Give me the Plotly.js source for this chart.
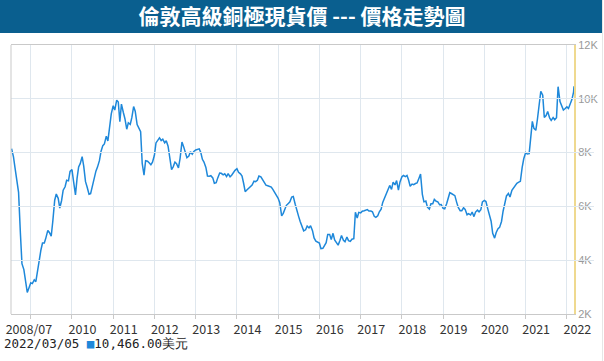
<!DOCTYPE html>
<html>
<head>
<meta charset="utf-8">
<script src="https://cdn.plot.ly/plotly-3.0.1.min.js"></script>
<style>
html,body{margin:0;padding:0;background:#ffffff;}
#chart{width:604px;height:361px;}
</style>
</head>
<body>
<div id="chart"></div>
<script>
// ---- data (semi-monthly) ----
const dates = [
'2008-07-15','2008-08-01','2008-08-15','2008-09-01','2008-09-15','2008-10-01','2008-10-15','2008-11-01','2008-11-15','2008-12-01','2008-12-15',
'2009-01-01','2009-01-15','2009-02-01','2009-02-15','2009-03-01','2009-03-15','2009-04-01','2009-04-15','2009-05-01','2009-05-15','2009-06-01','2009-06-15','2009-07-01','2009-07-15','2009-08-01','2009-08-15','2009-09-01','2009-09-15','2009-10-01','2009-10-15','2009-11-01','2009-11-15','2009-12-01','2009-12-15',
'2010-01-01','2010-01-15','2010-02-01','2010-02-15','2010-03-01','2010-03-15','2010-04-01','2010-04-15','2010-05-01','2010-05-15','2010-06-01','2010-06-15','2010-07-01','2010-07-15','2010-08-01','2010-08-15','2010-09-01','2010-09-15','2010-10-01','2010-10-15','2010-11-01','2010-11-15','2010-12-01','2010-12-15',
'2011-01-01','2011-01-15','2011-02-01','2011-02-15','2011-03-01','2011-03-15','2011-04-01','2011-04-15','2011-05-01','2011-05-15','2011-06-01','2011-06-15','2011-07-01','2011-07-15','2011-08-01','2011-08-15','2011-09-01','2011-09-15','2011-10-01','2011-10-15','2011-11-01','2011-11-15','2011-12-01','2011-12-15',
'2012-01-01','2012-01-15','2012-02-01','2012-02-15','2012-03-01','2012-03-15','2012-04-01','2012-04-15','2012-05-01','2012-05-15','2012-06-01','2012-06-15','2012-07-01','2012-07-15','2012-08-01','2012-08-15','2012-09-01','2012-09-15','2012-10-01','2012-10-15','2012-11-01','2012-11-15','2012-12-01','2012-12-15',
'2013-01-01','2013-01-15','2013-02-01','2013-02-15','2013-03-01','2013-03-15','2013-04-01','2013-04-15','2013-05-01','2013-05-15','2013-06-01','2013-06-15','2013-07-01','2013-07-15','2013-08-01','2013-08-15','2013-09-01','2013-09-15','2013-10-01','2013-10-15','2013-11-01','2013-11-15','2013-12-01','2013-12-15',
'2014-01-01','2014-01-15','2014-02-01','2014-02-15','2014-03-01','2014-03-15','2014-04-01','2014-04-15','2014-05-01','2014-05-15','2014-06-01','2014-06-15','2014-07-01','2014-07-15','2014-08-01','2014-08-15','2014-09-01','2014-09-15','2014-10-01','2014-10-15','2014-11-01','2014-11-15','2014-12-01','2014-12-15',
'2015-01-01','2015-01-15','2015-02-01','2015-02-15','2015-03-01','2015-03-15','2015-04-01','2015-04-15','2015-05-01','2015-05-15','2015-06-01','2015-06-15','2015-07-01','2015-07-15','2015-08-01','2015-08-15','2015-09-01','2015-09-15','2015-10-01','2015-10-15','2015-11-01','2015-11-15','2015-12-01','2015-12-15',
'2016-01-01','2016-01-15','2016-02-01','2016-02-15','2016-03-01','2016-03-15','2016-04-01','2016-04-15','2016-05-01','2016-05-15','2016-06-01','2016-06-15','2016-07-01','2016-07-15','2016-08-01','2016-08-15','2016-09-01','2016-09-15','2016-10-01','2016-10-15','2016-11-01','2016-11-15','2016-12-01','2016-12-15',
'2017-01-01','2017-01-15','2017-02-01','2017-02-15','2017-03-01','2017-03-15','2017-04-01','2017-04-15','2017-05-01','2017-05-15','2017-06-01','2017-06-15','2017-07-01','2017-07-15','2017-08-01','2017-08-15','2017-09-01','2017-09-15','2017-10-01','2017-10-15','2017-11-01','2017-11-15','2017-12-01','2017-12-15',
'2018-01-01','2018-01-15','2018-02-01','2018-02-15','2018-03-01','2018-03-15','2018-04-01','2018-04-15','2018-05-01','2018-05-15','2018-06-01','2018-06-15','2018-07-01','2018-07-15','2018-08-01','2018-08-15','2018-09-01','2018-09-15','2018-10-01','2018-10-15','2018-11-01','2018-11-15','2018-12-01','2018-12-15',
'2019-01-01','2019-01-15','2019-02-01','2019-02-15','2019-03-01','2019-03-15','2019-04-01','2019-04-15','2019-05-01','2019-05-15','2019-06-01','2019-06-15','2019-07-01','2019-07-15','2019-08-01','2019-08-15','2019-09-01','2019-09-15','2019-10-01','2019-10-15','2019-11-01','2019-11-15','2019-12-01','2019-12-15',
'2020-01-01','2020-01-15','2020-02-01','2020-02-15','2020-03-01','2020-03-15','2020-04-01','2020-04-15','2020-05-01','2020-05-15','2020-06-01','2020-06-15','2020-07-01','2020-07-15','2020-08-01','2020-08-15','2020-09-01','2020-09-15','2020-10-01','2020-10-15','2020-11-01','2020-11-15','2020-12-01','2020-12-15',
'2021-01-01','2021-01-15','2021-02-01','2021-02-15','2021-03-01','2021-03-15','2021-04-01','2021-04-15','2021-05-01','2021-05-15','2021-06-01','2021-06-15','2021-07-01','2021-07-15','2021-08-01','2021-08-15','2021-09-01','2021-09-15','2021-10-01','2021-10-15','2021-11-01','2021-11-15','2021-12-01','2021-12-15',
'2022-01-01','2022-01-15','2022-02-01','2022-02-15','2022-03-01','2022-03-05'
];

const prices = [
8150,7840,7420,6990,6520,5020,3870,3650,3300,2800,2960,
3160,3130,3270,3200,3600,4000,4380,4640,4640,4830,5110,5030,4890,5440,6230,6460,6300,5940,6220,6600,6730,6970,6950,7300,
7370,6930,6430,7040,7470,7590,7850,7500,6920,6720,6450,6470,6740,7090,7310,7460,7700,8040,8260,8320,8610,8430,8900,9440,
9740,9580,9950,9880,9150,9800,9490,9260,8870,9110,9050,9300,9710,9540,9040,8900,8780,7600,7160,7700,7680,7620,7550,7640,
7900,8360,8480,8550,8450,8500,8360,8440,8240,7750,7370,7470,7650,7590,7430,7780,8390,8230,7990,7810,7870,8030,7940,8040,
8100,8120,8140,8000,7750,7650,7450,7130,7120,7140,7060,6860,6880,7060,7240,7230,7170,7210,7110,7220,7100,7160,7280,7340,
7400,7270,7210,7130,6860,6550,6620,6680,6720,6790,6940,6920,6970,7130,7100,7000,6930,6790,6770,6740,6720,6630,6510,6430,
6300,6140,5650,5740,5900,6040,6110,6170,6350,6370,6080,5830,5630,5440,5250,5090,5130,5270,5200,5280,5100,4830,4710,4680,
4640,4430,4440,4540,4650,4960,4960,4770,5000,4750,4640,4560,4730,4920,4740,4690,4860,4730,4700,4780,4800,5780,5570,5780,
5760,5820,5840,5850,5880,5830,5830,5800,5630,5590,5650,5800,5900,6150,6320,6500,6690,6780,6630,6900,6800,6960,6610,6910,
7100,7150,7110,7150,6980,6750,6830,6810,6850,6870,7050,7200,6450,6170,6200,5970,5900,6100,6100,6260,6190,6170,6060,6070,
5930,5910,6100,6350,6510,6480,6450,6400,6150,5960,5840,5840,5950,5890,5690,5730,5680,5790,5620,5790,5860,5800,5880,6170,
6220,6180,5900,5640,5450,5000,4820,5030,5170,5220,5440,5820,6090,6390,6480,6350,6600,6670,6790,6860,6900,6930,7450,7770,
8000,7950,7960,8450,9160,8900,8830,9240,9720,10280,10130,9310,9380,9530,9290,9200,9300,9220,9300,10450,9900,9720,9580,9630,
9700,9640,9820,9980,10250,10466
];

const gridYears = ['2009-01-01','2010-01-01','2011-01-01','2012-01-01','2013-01-01','2014-01-01','2015-01-01','2016-01-01','2017-01-01','2018-01-01','2019-01-01','2020-01-01','2021-01-01','2022-01-01'];
const labelDates = ['2008-09-14','2010-01-01','2011-01-01','2012-01-01','2013-01-01','2014-01-01','2015-01-01','2016-01-01','2017-01-01','2018-01-01','2019-01-01','2020-01-01','2021-01-01','2022-01-01'];
const labelText = ['2008/07','2010','2011','2012','2013','2014','2015','2016','2017','2018','2019','2020','2021','2022'];
const yTicks = [2000,4000,6000,8000,10000,12000];
const yTickText = ['2K','4K','6K','8K','10K','12K'];
const xRange = ['2008-07-10','2022-03-05'];
const yRange = [2000,12000];
const titleText = '倫敦高級銅極現貨價 --- 價格走勢圖';
const lastDateLabel = '2022/03/05';
const unitText = '美元';

// ---- layout geometry & styles ----
const W = 604, H = 361;
const M = {l:11, r:10, t:45, b:47};
const plotRight = 574;                       // right edge of the chart area (px)
const pw = W - M.l - M.r, ph = H - M.t - M.b;
const mainW = plotRight - M.l;
const px2x = p => (p - M.l) / pw;            // pixel -> paper x
const px2y = p => (H - M.b - p) / ph;        // pixel -> paper y

// label axis: same scale as main axis, labels drawn 10.5px right of their gridline
const labelShiftPx = 10.5;
const t0 = Date.parse(xRange[0] + 'T00:00:00Z');
const t1 = Date.parse(xRange[1] + 'T00:00:00Z');
const msPerPx = (t1 - t0) / mainW;
const toStr = ms => new Date(ms).toISOString().replace('T', ' ').replace('Z', '');
const x2Range = [toStr(t0 - labelShiftPx * msPerPx), toStr(t0 - labelShiftPx * msPerPx + pw * msPerPx)];

const lineColor = '#1e88da';
const gridColor = '#dfe7ee';
const borderColor = '#c9c9c9';

const lastPrice = prices[prices.length - 1].toLocaleString('en-US', {minimumFractionDigits:2, maximumFractionDigits:2});

const traces = [
  {
    type:'scatter', mode:'lines', x:dates, y:prices,
    line:{color:lineColor, width:1.5}, hoverinfo:'skip', showlegend:false
  },
  {
    type:'scatter', mode:'lines', x:dates, y:prices, xaxis:'x2',
    line:{color:'rgba(0,0,0,0)', width:0}, hoverinfo:'skip', showlegend:false
  }
];

const layout = {
  width:W, height:H, margin:M,
  paper_bgcolor:'#ffffff', plot_bgcolor:'rgba(0,0,0,0)',
  showlegend:false,
  title:{
    text:titleText, xref:'container', x:0.5, xanchor:'center',
    yref:'container', y:1 - 17/H, yanchor:'middle',
    font:{family:'"Noto Sans CJK TC", sans-serif', size:21, color:'#ffffff', weight:'bold'}
  },
  xaxis:{
    type:'date', range:xRange, domain:[0, mainW / pw],
    tickmode:'array', tickvals:gridYears,
    showticklabels:false, showgrid:true, gridcolor:gridColor, gridwidth:1,
    ticks:'outside', ticklen:4, tickcolor:borderColor, tickwidth:1,
    showline:true, mirror:true, linecolor:borderColor, linewidth:1,
    zeroline:false, fixedrange:true
  },
  xaxis2:{
    type:'date', range:x2Range, domain:[0, 1], anchor:'free', position:0, side:'bottom',
    tickmode:'array', tickvals:labelDates, ticktext:labelText,
    ticks:'', showgrid:false, showline:false, zeroline:false, fixedrange:true,
    ticklabelstandoff:6,
    tickfont:{family:'"Noto Sans CJK TC", sans-serif', size:12.5, color:'#333333'}
  },
  yaxis:{
    range:yRange, side:'right', anchor:'x', tickmode:'array', tickvals:yTicks, ticktext:yTickText,
    showgrid:true, gridcolor:gridColor, gridwidth:1,
    showline:true, linecolor:'#efd98f', linewidth:2,
    ticks:'', zeroline:false, fixedrange:true,
    tickfont:{family:'"Liberation Sans", Arial, sans-serif', size:11, color:'#999999'}
  },
  shapes:[
    {type:'rect', xref:'paper', yref:'paper', x0:px2x(0), x1:px2x(602), y0:px2y(33), y1:px2y(0),
     fillcolor:'#0a5f8f', line:{width:0}, layer:'below'},
    {type:'line', xref:'paper', yref:'paper', x0:0, x1:0, y0:0, y1:1,
     line:{color:borderColor, width:1}, layer:'above'},
    {type:'line', xref:'paper', yref:'paper', x0:px2x(602.5), x1:px2x(602.5), y0:px2y(H), y1:px2y(0),
     line:{color:'#e6e6e6', width:1}, layer:'below'}
  ],
  annotations:[
    {xref:'paper', yref:'paper', x:px2x(2), y:px2y(343), xanchor:'left', yanchor:'middle',
     showarrow:false,
     text: lastDateLabel + ' <span style="color:' + lineColor + '">■</span>' + lastPrice + unitText,
     font:{family:'"DejaVu Sans Mono", monospace', size:12.5, color:'#222222'}}
  ]
};

Plotly.newPlot('chart', traces, layout, {staticPlot:true, displayModeBar:false});
</script>
</body>
</html>
